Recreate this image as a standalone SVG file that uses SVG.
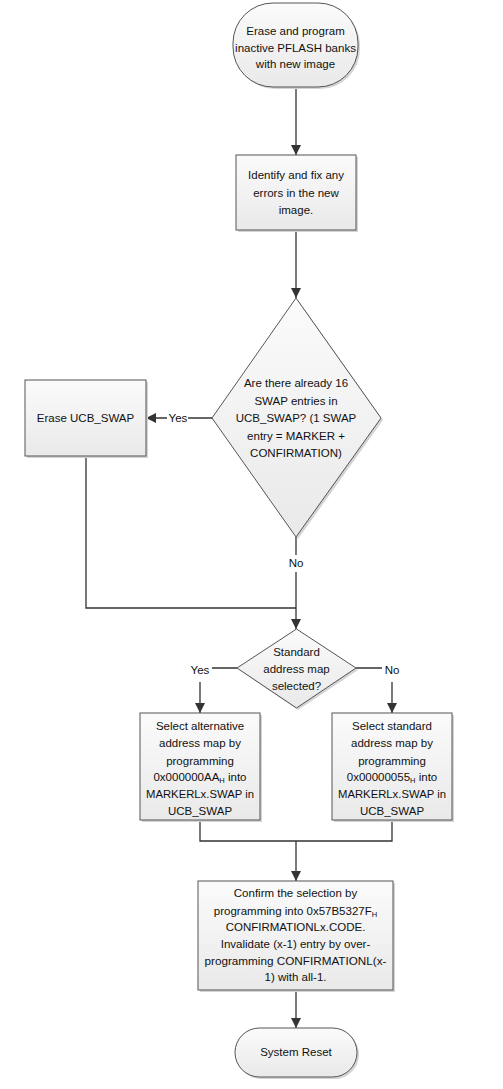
<svg xmlns="http://www.w3.org/2000/svg" width="503" height="1089" viewBox="0 0 503 1089">
<defs>
<linearGradient id="g" x1="0" y1="0" x2="0" y2="1">
<stop offset="0" stop-color="#fbfbfb"/>
<stop offset="1" stop-color="#e9e9e9"/>
</linearGradient>
<marker id="arr" viewBox="0 0 10 10" refX="10" refY="5" markerWidth="10" markerHeight="10" markerUnits="userSpaceOnUse" orient="auto">
<path d="M0,0 L10,5 L0,10 Z" fill="#333"/>
</marker>
</defs>
<style>
.s{fill:url(#g);stroke:#555;stroke-width:1}
.sh{fill:#d4d4d4;stroke:none}
text{font-family:"Liberation Sans",Arial,sans-serif;font-size:11.5px;fill:#111;text-anchor:middle}
.c{fill:none;stroke:#333;stroke-width:1.3}
.bg{fill:#fff}
.sub{font-size:7.5px}
</style>
<rect width="503" height="1089" fill="#fff"/>
<g id="connectors">
<path class="c" d="M296,87 V155" marker-end="url(#arr)"/>
<path class="c" d="M296,230 V298" marker-end="url(#arr)"/>
<path class="c" d="M212,418 H146" marker-end="url(#arr)"/>
<path class="c" d="M296,537 V629" marker-end="url(#arr)"/>
<path class="c" d="M86,456 V608 H296"/>
<path class="c" d="M237,668 H200 V713" marker-end="url(#arr)"/>
<path class="c" d="M356,668 H392 V713" marker-end="url(#arr)"/>
<path class="c" d="M200,820 V841 H392 V820"/>
<path class="c" d="M296,841 V881" marker-end="url(#arr)"/>
<path class="c" d="M296,990 V1028" marker-end="url(#arr)"/>
<rect class="bg" x="167" y="410" width="21" height="16"/>
<text x="178" y="422">Yes</text>
<rect class="bg" x="286" y="555" width="20" height="17"/>
<text x="296" y="567">No</text>
<rect class="bg" x="188" y="662" width="24" height="20"/>
<text x="200" y="674">Yes</text>
<rect class="bg" x="382" y="662" width="20" height="20"/>
<text x="392" y="674">No</text>
</g>
<g id="start">
<rect class="sh" x="235" y="5" width="125" height="84" rx="40"/>
<rect class="s" x="233" y="3" width="125" height="84" rx="40"/>
<text x="295.5" y="35">Erase and program</text>
<text x="295.5" y="52">inactive PFLASH banks</text>
<text x="295.5" y="68">with new image</text>
</g>
<g id="identify">
<rect class="sh" x="238" y="157" width="120" height="75"/>
<rect class="s" x="236" y="155" width="120" height="75"/>
<text x="296" y="179">Identify and fix any</text>
<text x="296" y="197">errors in the new</text>
<text x="296" y="214">image.</text>
</g>
<g id="decision1">
<path class="sh" d="M298,300 L383,420 L298,539 L214,420 Z"/>
<path class="s" d="M296,298 L381,418 L296,537 L212,418 Z"/>
<text x="296" y="387">Are there already 16</text>
<text x="296" y="405">SWAP entries in</text>
<text x="296" y="422">UCB_SWAP? (1 SWAP</text>
<text x="296" y="440">entry = MARKER +</text>
<text x="296" y="457">CONFIRMATION)</text>
</g>
<g id="erase">
<rect class="sh" x="27" y="382" width="121" height="76"/>
<rect class="s" x="25" y="380" width="121" height="76"/>
<text x="85.5" y="422">Erase UCB_SWAP</text>
</g>
<g id="decision2">
<path class="sh" d="M298,631 L358,670 L298,710 L239,670 Z"/>
<path class="s" d="M296.5,629 L356,668 L296.5,708 L237,668 Z"/>
<text x="296.5" y="656">Standard</text>
<text x="296.5" y="673">address map</text>
<text x="296.5" y="690">selected?</text>
</g>
<g id="alt">
<rect class="sh" x="142" y="715" width="120" height="107"/>
<rect class="s" x="140" y="713" width="120" height="107"/>
<text x="200" y="730">Select alternative</text>
<text x="200" y="747">address map by</text>
<text x="200" y="765">programming</text>
<text x="200" y="781">0x000000AA<tspan class="sub" dy="2">H</tspan><tspan dy="-2"> into</tspan></text>
<text x="200" y="798" textLength="108" lengthAdjust="spacingAndGlyphs">MARKERLx.SWAP in</text>
<text x="200" y="815">UCB_SWAP</text>
</g>
<g id="std">
<rect class="sh" x="334" y="715" width="120" height="107"/>
<rect class="s" x="332" y="713" width="120" height="107"/>
<text x="392" y="730">Select standard</text>
<text x="392" y="747">address map by</text>
<text x="392" y="765">programming</text>
<text x="392" y="781">0x00000055<tspan class="sub" dy="2">H</tspan><tspan dy="-2"> into</tspan></text>
<text x="392" y="798" textLength="108" lengthAdjust="spacingAndGlyphs">MARKERLx.SWAP in</text>
<text x="392" y="815">UCB_SWAP</text>
</g>
<g id="confirm">
<rect class="sh" x="200" y="883" width="195" height="109"/>
<rect class="s" x="198" y="881" width="195" height="109"/>
<text x="295.5" y="897">Confirm the selection by</text>
<text x="295.5" y="915">programming into 0x57B5327F<tspan class="sub" dy="2">H</tspan></text>
<text x="295.5" y="931">CONFIRMATIONLx.CODE.</text>
<text x="295.5" y="948">Invalidate (x-1) entry by over-</text>
<text x="295.5" y="965" textLength="182" lengthAdjust="spacingAndGlyphs">programming CONFIRMATIONL(x-</text>
<text x="295.5" y="981">1) with all-1.</text>
</g>
<g id="reset">
<rect class="sh" x="237" y="1030" width="122" height="49" rx="24.5"/>
<rect class="s" x="235" y="1028" width="122" height="49" rx="24.5"/>
<text x="296" y="1056">System Reset</text>
</g>
</svg>
